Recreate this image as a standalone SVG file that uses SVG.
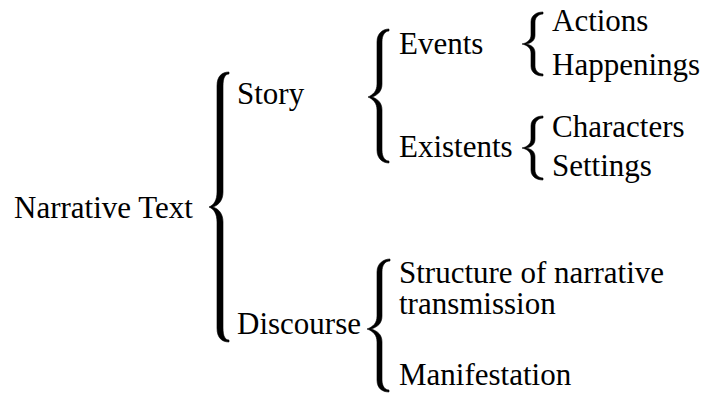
<svg xmlns="http://www.w3.org/2000/svg" width="704" height="394" viewBox="0 0 704 394">
<style>
text{font-family:"Liberation Serif","Times New Roman",serif;font-size:31px;fill:#000}
.brace{fill:#000;stroke:#000;stroke-width:0.6}
</style>
<rect width="704" height="394" fill="#fff"/>
<g id="connectors">
<path class="brace" d="M229,72 C222,72 217,76 217,86 L217,192 C217,200 214,205 209,207 C214,209 217,214 217,222 L217,328 C217,338 222,342 229,342 L229,340 C225,340 223,336 223,328 L223,222 C223,214 219,209 213,207 C219,205 223,200 223,192 L223,86 C223,78 225,74 229,74 Z"/>
<path class="brace" d="M389,29 C383,29 377,33 377,42 L377,84 C377,91 373,95 368,97 C373,99 377,103 377,110 L377,150 C377,159 383,163 389,163 L389,161 C385,161 382,157 382,150 L382,110 C382,103 378,99 372,97 C378,95 382,91 382,84 L382,42 C382,35 385,31 389,31 Z"/>
<path class="brace" d="M543,12 C537,12 531,15 531,22 L531,35 C531,40 527,43 522,44 C527,45 531,48 531,53 L531,66 C531,73 537,76 543,76 L543,74 C539,74 535,71 535,66 L535,53 C535,48 532,45 526,44 C532,43 535,40 535,35 L535,22 C535,17 539,14 543,14 Z"/>
<path class="brace" d="M543,116 C537,116 531,119 531,126 L531,139 C531,144 527,147 522,148 C527,149 531,152 531,157 L531,170 C531,177 537,180 543,180 L543,178 C539,178 535,175 535,170 L535,157 C535,152 532,149 526,148 C532,147 535,144 535,139 L535,126 C535,121 539,118 543,118 Z"/>
<path class="brace" d="M390,259 C384,259 377,263 377,272 L377,316 C377,323 373,327 367,329 C373,331 377,335 377,342 L377,380 C377,389 383,392 389,392 L389,390 C385,390 382,386 382,380 L382,342 C382,335 378,331 371,329 C378,327 382,323 382,316 L382,272 C382,265 385,261 390,261 Z"/>
</g>
<g id="narrative-text"><text x="14" y="218">Narrative Text</text></g>
<g id="story"><text x="237" y="104">Story</text></g>
<g id="discourse"><text x="237" y="334">Discourse</text></g>
<g id="events"><text x="399" y="54">Events</text></g>
<g id="existents"><text x="399" y="157">Existents</text></g>
<g id="actions"><text x="552" y="31">Actions</text></g>
<g id="happenings"><text x="552" y="75">Happenings</text></g>
<g id="characters"><text x="552" y="137">Characters</text></g>
<g id="settings"><text x="552" y="176">Settings</text></g>
<g id="structure"><text x="399" y="283">Structure of narrative<tspan x="399" dy="31">transmission</tspan></text></g>
<g id="manifestation"><text x="399" y="385">Manifestation</text></g>
</svg>
